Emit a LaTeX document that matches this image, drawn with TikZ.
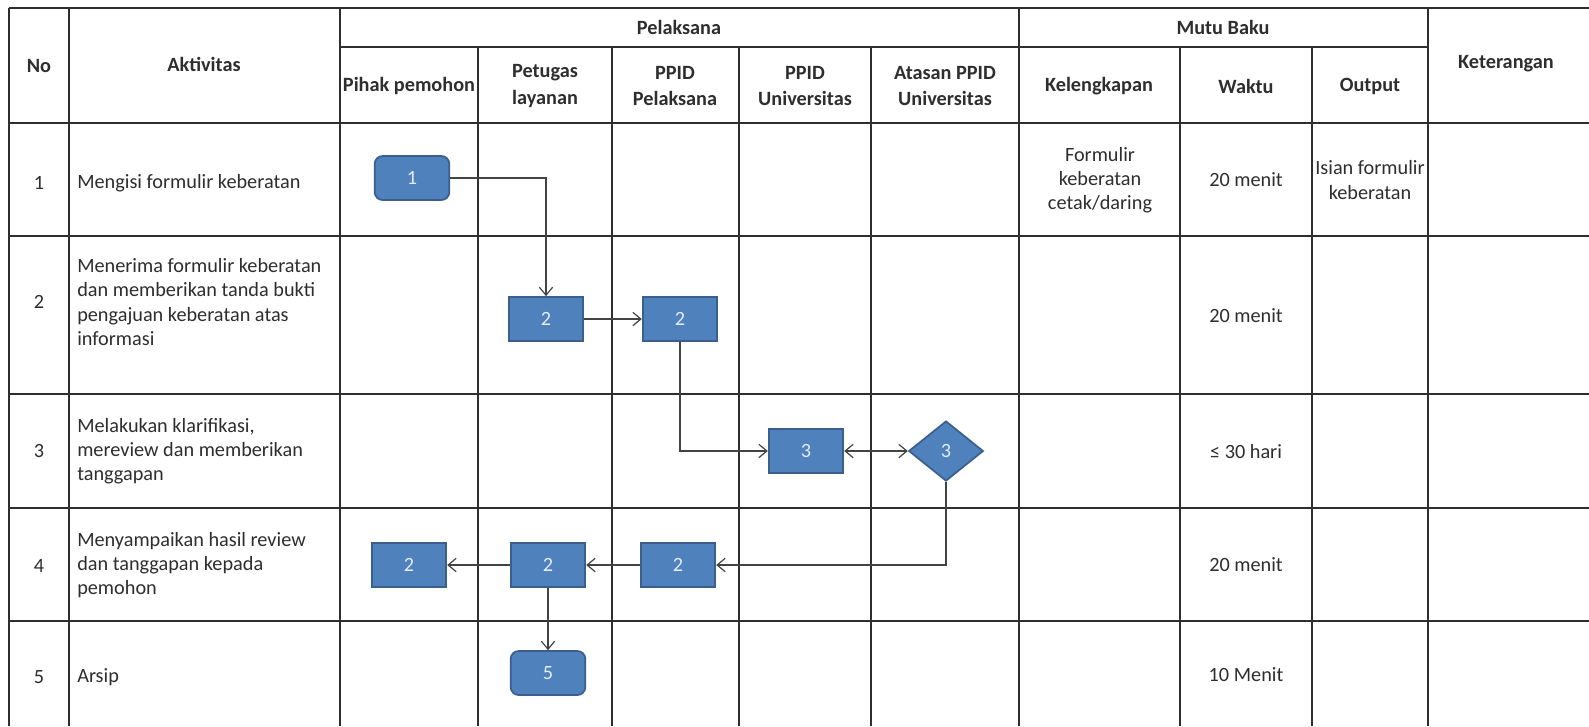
\documentclass[tikz,border=0pt]{standalone}
\usepackage{fontspec}
\setmainfont{Carlito}
\usetikzlibrary{arrows.meta,shapes.geometric}
\definecolor{boxblue}{HTML}{4F81BD}
\definecolor{boxedge}{HTML}{3A5F8C}
\definecolor{ink}{HTML}{2E2E2E}
\begin{document}
\begin{tikzpicture}[x=0.75pt, y=-0.75pt,
    >={Straight Barb[length=6pt,width=10pt]},
    every node/.style={font=\fontsize{15.2}{18.2}\selectfont, text=ink, inner sep=0pt},
    head/.style={font=\fontsize{15.2}{19.8}\selectfont\bfseries, align=center},
    cell/.style={align=center},
    task/.style={anchor=west, align=left},
    rule/.style={draw=ink, line width=1.3pt},
    proc/.style={rectangle, draw=boxedge, fill=boxblue, line width=1.3pt,
      minimum width=56pt, minimum height=33pt, text=white!85!boxblue},
    term/.style={proc, rounded corners=6pt},
    check/.style={proc, diamond, minimum width=56pt, minimum height=45pt},
    flow/.style={draw=ink!90, line width=0.9pt}]
    \newcommand\kTop{8}
    \newcommand\kBot{726}
    \newcommand\kRight{1589}
    \fill[white] (0,0) rectangle (\kRight,\kBot);
    \useasboundingbox (0,0) rectangle (\kRight,\kBot);
    \foreach \x in {9,69,340,1019,1428} {
      \draw[rule] (\x,\kTop) -- (\x,\kBot);
    }
    \foreach \x in {478,612,739,871,1180,1312} {
      \draw[rule] (\x,47) -- (\x,\kBot);
    }
    \draw[rule] (9,\kTop) -- (\kRight,\kTop);
    \draw[rule] (340,47) -- (1428,47);
    \foreach \y in {123,236,394,508,621} {
      \draw[rule] (9,\y) -- (\kRight,\y);
    }
    \node[head] (hNo) at (39,66) {No};
    \node[head] (hAkt) at (204,64) {Aktivitas};
    \node[head] (hPel) at (679,27) {Pelaksana};
    \node[head] (hMutu) at (1223,27) {Mutu Baku};
    \node[head] (hKet) at (1506,64) {Keterangan};
    \foreach \n/\x/\t in {pem/409/Pihak pemohon, pet/545/Petugas\\layanan,
        ppl/675/PPID\\Pelaksana, ppu/805/PPID\\Universitas,
        ata/945/Atasan PPID\\Universitas, kel/1099/Kelengkapan,
        wkt/1246/Waktu, out/1370/Output} {
      \node[head] (h\n) at (\x,86) {\t};
    }
    \foreach \n/\y in {1/183,2/302,3/451,4/566,5/677} {
      \node (no\n) at (39,\y) {\n};
    }
    \node[task] (akt1) at (77,183) {Mengisi formulir keberatan};
    \node[task] (akt2) at (77,302)
      {Menerima formulir keberatan\\dan memberikan tanda bukti\\pengajuan keberatan atas\\informasi};
    \node[task] (akt3) at (77,451)
      {Melakukan klarifikasi,\\mereview dan memberikan\\tanggapan};
    \node[task] (akt4) at (77,565)
      {Menyampaikan hasil review\\dan tanggapan kepada\\pemohon};
    \node[task] (akt5) at (77,677) {Arsip};
    \node[cell] (kel1) at (1100,180) {Formulir\\keberatan\\cetak/daring};
    \node[cell] (out1) at (1370,180) {Isian formulir\\keberatan};
    \foreach \n/\y/\t in {1/180/20 menit, 2/316/20 menit, 3/452/≤ 30 hari,
        4/565/20 menit, 5/675/10 Menit} {
      \node (wkt\n) at (1246,\y) {\t};
    }
    \node[term] (b1) at (412,178) {1};
    \node[proc] (b2a) at (546,319) {2};
    \node[proc] (b2b) at (680,319) {2};
    \node[proc] (b3) at (806,451) {3};
    \node[check] (d3) at (946,451) {3};
    \node[proc] (b4c) at (678,565) {2};
    \node[proc] (b4b) at (548,565) {2};
    \node[proc] (b4a) at (409,565) {2};
    \node[term] (b5) at (548,673) {5};
    \draw[flow,->] (b1.east) -| (b2a.north);
    \draw[flow,->] (b2a) -- (b2b);
    \draw[flow,->] (b2b.south) |- (b3.west);
    \draw[flow,<->] (b3) -- (d3);
    \draw[flow,->] (d3.south) |- (b4c.east);
    \draw[flow,->] (b4c) -- (b4b);
    \draw[flow,->] (b4b) -- (b4a);
    \draw[flow,->] (b4b) -- (b5);
  \end{tikzpicture}
\end{document}
